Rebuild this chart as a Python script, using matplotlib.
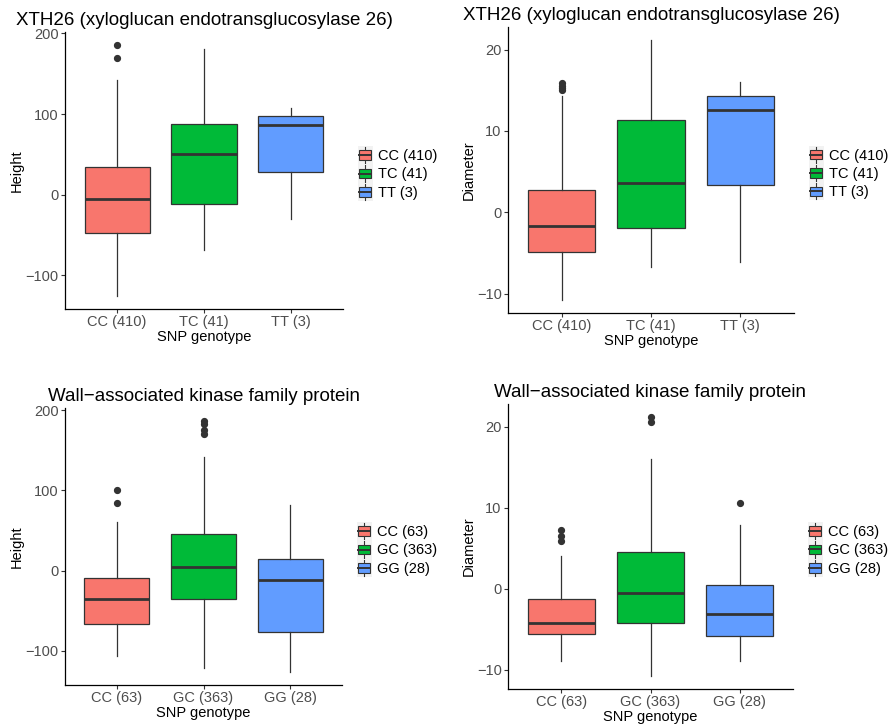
import matplotlib
matplotlib.use("Agg")
import matplotlib.pyplot as plt
from matplotlib.legend_handler import HandlerBase
from matplotlib.patches import Rectangle, Patch
from matplotlib.lines import Line2D

plt.rcParams['font.family'] = ['Liberation Sans', 'DejaVu Sans']

COLORS = ['#F8766D', '#00BA38', '#619CFF']
EDGE = '#333333'

# ---- data ----
title_top = "XTH26 (xyloglucan endotransglucosylase 26)"
title_bot = "Wall\u2212associated kinase family protein"
cats_top = ["CC (410)", "TC (41)", "TT (3)"]
cats_bot = ["CC (63)", "GC (363)", "GG (28)"]

# Height, XTH26
h1_whislo = [-126, -68, -30]
h1_q1 = [-48, -11, 28]
h1_med = [-5, 51, 86]
h1_q3 = [34, 88, 97]
h1_whishi = [142, 180, 107]
h1_fliers = [[170, 186], [], []]

# Diameter, XTH26
d1_whislo = [-10.8, -6.7, -6.1]
d1_q1 = [-4.9, -1.9, 3.3]
d1_med = [-1.7, 3.6, 12.6]
d1_q3 = [2.8, 11.3, 14.3]
d1_whishi = [14.3, 21.2, 16.0]
d1_fliers = [[15.1, 15.3, 15.6, 15.9], [], []]

# Height, wall-associated kinase
h2_whislo = [-107, -121, -127]
h2_q1 = [-67, -36, -77]
h2_med = [-35, 4, -12]
h2_q3 = [-9, 45, 14]
h2_whishi = [60, 142, 82]
h2_fliers = [[84, 100], [170, 175, 183, 187], []]

# Diameter, wall-associated kinase
d2_whislo = [-9.0, -10.8, -8.9]
d2_q1 = [-5.6, -4.2, -5.9]
d2_med = [-4.2, -0.6, -3.1]
d2_q3 = [-1.3, 4.5, 0.4]
d2_whishi = [4.0, 16.0, 7.8]
d2_fliers = [[5.9, 6.5, 7.2], [20.6, 21.2], [10.6]]

panels = [
    dict(rect=[65/889, 1-309/727, 278/889, 277/727], title=title_top, cats=cats_top,
         ylabel="Height", yticks=[-100, 0, 100, 200],
         s=(h1_whislo, h1_q1, h1_med, h1_q3, h1_whishi, h1_fliers)),
    dict(rect=[508/889, 1-313/727, 286/889, 286/727], title=title_top, cats=cats_top,
         ylabel="Diameter", yticks=[-10, 0, 10, 20],
         s=(d1_whislo, d1_q1, d1_med, d1_q3, d1_whishi, d1_fliers)),
    dict(rect=[65/889, 1-685/727, 277/889, 277/727], title=title_bot, cats=cats_bot,
         ylabel="Height", yticks=[-100, 0, 100, 200],
         s=(h2_whislo, h2_q1, h2_med, h2_q3, h2_whishi, h2_fliers)),
    dict(rect=[508/889, 1-689/727, 285/889, 285/727], title=title_bot, cats=cats_bot,
         ylabel="Diameter", yticks=[-10, 0, 10, 20],
         s=(d2_whislo, d2_q1, d2_med, d2_q3, d2_whishi, d2_fliers)),
]


class BoxHandler(HandlerBase):
    def create_artists(self, legend, orig_handle, xdescent, ydescent, width, height, fontsize, trans):
        color = orig_handle.get_facecolor()
        x0, y0 = -xdescent, -ydescent
        bg = Rectangle((x0, y0), width, height, facecolor='#F2F2F2', edgecolor='none', transform=trans)
        cx = x0 + width / 2
        wl = Line2D([cx, cx], [y0 + height * 0.06, y0 + height * 0.94], color=EDGE, lw=0.8, transform=trans)
        box = Rectangle((x0 + width * 0.1, y0 + height * 0.24), width * 0.8, height * 0.52,
                        facecolor=color, edgecolor=EDGE, lw=0.8, transform=trans)
        med = Line2D([x0 + width * 0.1, x0 + width * 0.9], [y0 + height / 2] * 2, color=EDGE, lw=1.4, transform=trans)
        return [bg, wl, box, med]


fig = plt.figure(figsize=(8.89, 7.27), dpi=100)

for p in panels:
    ax = fig.add_axes(p['rect'])
    whislo, q1, med, q3, whishi, fliers = p['s']
    stats = []
    for i in range(3):
        stats.append(dict(med=med[i], q1=q1[i], q3=q3[i], whislo=whislo[i], whishi=whishi[i],
                          fliers=fliers[i], label=p['cats'][i]))
    bp = ax.bxp(stats, positions=[1, 2, 3], widths=0.75, patch_artist=True, showcaps=False,
                boxprops=dict(edgecolor=EDGE, linewidth=0.9),
                medianprops=dict(color=EDGE, linewidth=2.0, solid_capstyle='butt'),
                whiskerprops=dict(color=EDGE, linewidth=0.9),
                flierprops=dict(marker='o', markerfacecolor=EDGE, markeredgecolor=EDGE, markersize=4.2))
    for patch, c in zip(bp['boxes'], COLORS):
        patch.set_facecolor(c)
    allv = whislo + whishi + [v for f in fliers for v in f]
    lo, hi = min(allv), max(allv)
    r = hi - lo
    ax.set_ylim(lo - 0.05 * r, hi + 0.05 * r)
    ax.set_xlim(0.4, 3.6)
    ax.set_yticks(p['yticks'])
    ax.set_yticklabels([str(t).replace('-', '\u2212') for t in p['yticks']])
    ax.set_xticks([1, 2, 3])
    ax.set_xticklabels(p['cats'])
    for s in ['top', 'right']:
        ax.spines[s].set_visible(False)
    for s in ['left', 'bottom']:
        ax.spines[s].set_color('black')
        ax.spines[s].set_linewidth(0.9)
    ax.tick_params(axis='both', colors=EDGE, length=3, width=0.8, labelsize=10.5,
                   labelcolor='#4D4D4D', pad=1.5)
    ax.set_xlabel("SNP genotype", fontsize=10.5, labelpad=0.5)
    ax.set_ylabel(p['ylabel'], fontsize=10.5, labelpad=1)
    ax.set_title(p['title'], fontsize=13.5, pad=5)
    handles = [Patch(facecolor=c) for c in COLORS]
    ax_h = p['rect'][3] * 727
    ax.legend(handles, p['cats'], handler_map={Patch: BoxHandler()}, loc='center left',
              bbox_to_anchor=(1 + 15 / (p['rect'][2] * 889), 0.5 - 3 / ax_h), frameon=False, fontsize=10.5,
              handlelength=1.0, handleheight=1.55, labelspacing=0.0, handletextpad=0.35,
              borderpad=0, borderaxespad=0)

fig.savefig("out.png", dpi=100, facecolor='white')
